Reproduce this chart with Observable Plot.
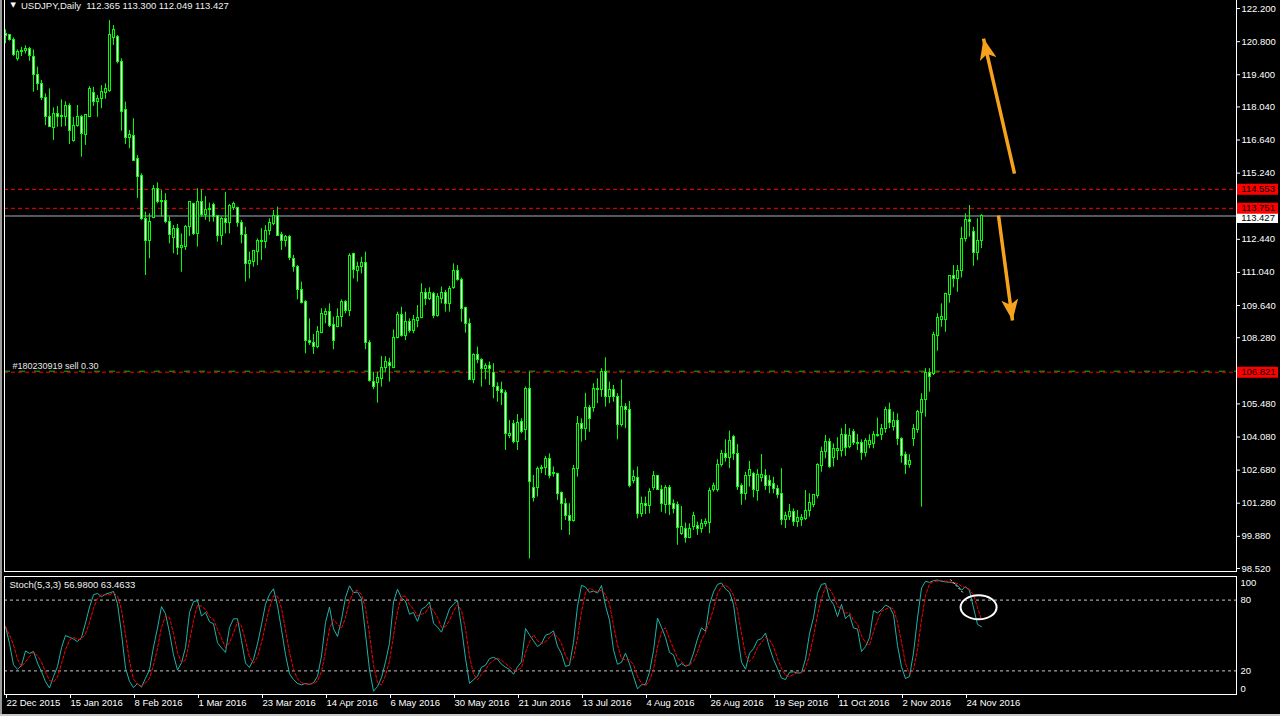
<!DOCTYPE html>
<html><head><meta charset="utf-8">
<script src="https://cdn.jsdelivr.net/npm/d3@7"></script>
<script src="https://cdn.jsdelivr.net/npm/@observablehq/plot@0.6"></script>
<style>
html,body{margin:0;padding:0;background:#000;width:1280px;height:716px;overflow:hidden;}
#wrap{position:relative;width:1280px;height:716px;background:#000;}
#main{position:absolute;left:0;top:0;}
#osc{position:absolute;left:0;top:573px;}
.border{position:absolute;pointer-events:none;box-sizing:content-box;}
svg{overflow:visible;}
</style></head><body>
<div id="wrap">
  <div id="main"></div>
  <div id="osc"></div>
  <div class="border" style="left:4px;top:0;width:1231px;height:571px;border-left:1px solid #fff;border-right:1px solid #fff;border-bottom:1px solid #fff;"></div>
  <div class="border" style="left:0;top:0;width:2px;height:716px;background:#9a9a9a"></div>
  <div class="border" style="left:0;top:714px;width:1280px;height:2px;background:#c8c8c8"></div>
</div>
<script>
// ---- chart data (USDJPY daily, 22 Dec 2015 .. 30 Nov 2016) ----
const open = [
121.13,121.06,120.89,120.06,120.35,120.40,120.51,120.17,119.41,119.02,
118.42,117.63,117.16,117.72,117.60,117.60,118.06,116.59,117.22,117.63,
116.87,117.63,118.64,118.24,118.36,118.62,118.73,120.96,120.99,119.93,
117.89,116.72,116.79,115.82,115.10,113.32,112.36,113.33,114.55,114.01,
114.08,113.19,112.49,112.86,112.07,112.11,112.95,113.92,112.66,114.00,
113.45,113.66,113.91,113.41,112.56,113.32,113.12,113.76,113.77,113.15,
112.64,111.40,111.47,111.90,112.32,112.32,112.78,113.10,113.41,112.63,
112.35,112.52,111.59,111.29,110.28,109.77,108.13,108.04,107.88,108.47,
109.26,109.35,108.80,108.72,109.15,109.77,109.39,111.83,111.12,111.26,
111.43,108.05,106.40,106.36,106.55,106.98,107.23,107.01,108.26,109.22,
108.34,108.96,108.58,108.98,109.11,110.16,109.93,110.11,109.19,109.93,
110.15,109.71,110.37,111.08,110.70,109.53,108.84,106.51,107.53,107.32,
106.94,107.08,106.78,106.19,106.05,105.95,104.12,104.64,103.86,104.71,
104.36,106.09,101.93,101.93,102.71,102.78,103.16,102.50,102.53,101.72,
101.26,100.72,100.52,102.74,104.64,104.43,105.32,105.32,106.08,106.08,
106.85,105.76,106.08,105.79,104.60,105.37,105.23,102.21,102.36,100.83,
101.23,101.16,101.93,102.41,101.86,101.19,101.92,101.23,101.22,99.99,
100.20,99.82,100.27,100.31,100.20,100.41,100.44,101.85,101.85,102.91,
103.37,103.19,104.07,103.37,101.99,101.68,102.45,102.50,101.79,102.34,
102.41,102.24,102.10,101.89,101.65,100.55,100.69,100.89,100.47,100.55,
100.62,100.94,101.19,101.57,102.85,103.44,103.86,103.19,103.48,103.48,
104.17,103.65,104.31,103.82,103.84,103.41,103.75,103.79,104.12,104.15,
104.43,105.24,104.50,104.74,104.01,103.30,102.91,104.01,104.39,105.10,
105.63,106.78,106.75,108.34,109.04,109.04,110.07,110.87,110.77,111.09,
112.46,113.27,112.74,111.87,112.365];
const high = [
121.30,121.10,120.96,120.45,120.56,120.62,120.56,120.45,119.72,119.16,
118.59,118.80,118.00,118.06,118.34,118.26,118.17,117.60,118.10,117.68,
117.70,118.90,118.87,118.52,118.94,119.02,121.69,121.48,121.06,120.07,
118.24,117.04,117.54,115.98,115.21,113.59,113.52,114.72,114.83,114.50,
114.37,113.38,113.02,113.07,112.67,113.02,114.01,113.97,114.58,114.53,
114.25,113.97,113.97,113.45,113.38,114.43,113.91,114.01,113.80,113.24,
112.95,111.90,111.97,112.46,112.89,113.02,113.31,113.66,113.80,112.74,
112.60,112.60,111.76,111.33,110.63,109.85,109.08,108.42,108.75,109.50,
109.50,109.71,109.15,109.50,109.88,109.85,111.83,111.85,111.47,111.68,
111.90,108.16,106.82,106.82,107.48,107.48,107.41,108.61,109.36,109.57,
109.36,109.08,109.22,109.64,110.56,110.35,110.39,110.20,110.14,110.42,
110.28,110.45,111.40,111.33,110.80,109.57,109.08,107.60,107.88,107.39,
107.18,107.25,107.18,106.37,106.40,106.05,104.78,104.78,105.03,104.85,
106.19,106.82,102.45,102.81,102.88,103.26,103.37,102.81,102.55,101.75,
101.47,101.26,102.88,104.95,104.85,105.93,105.41,106.33,106.54,106.97,
107.43,106.40,106.26,105.91,106.50,105.49,105.58,102.67,102.81,101.54,
101.54,101.89,102.62,102.45,102.03,102.03,102.03,101.42,101.33,101.14,
100.44,100.41,100.90,100.48,100.59,100.62,101.92,102.13,103.12,103.51,
103.96,104.33,104.15,103.76,102.10,102.59,103.05,102.59,102.70,103.34,
102.70,102.45,102.38,102.03,102.74,100.90,101.23,101.04,100.97,100.80,
101.82,101.68,101.65,102.95,103.65,104.15,104.01,103.79,104.05,104.43,
104.61,104.43,104.39,104.19,103.96,104.01,104.17,104.31,104.88,104.61,
105.34,105.51,105.13,105.06,104.05,103.44,103.33,104.61,105.20,105.91,
106.97,106.97,108.51,109.29,109.71,110.16,110.91,111.33,111.33,112.95,
113.52,113.87,112.95,113.31,113.48];
const low = [
120.71,120.82,120.17,119.97,120.17,120.28,119.97,118.66,118.73,118.31,
117.25,117.18,116.62,117.18,117.18,117.21,116.45,116.55,117.18,115.91,
116.41,117.60,118.06,117.60,117.96,118.36,118.66,120.64,119.86,117.01,
116.45,116.27,115.73,114.17,113.24,110.91,111.62,113.31,113.94,113.38,
113.10,112.25,111.83,111.76,111.05,111.97,112.56,112.60,112.11,113.38,
113.24,113.17,113.17,112.32,112.18,112.67,112.67,113.66,112.95,112.25,
110.63,110.77,111.26,111.33,111.54,112.04,112.60,113.02,112.56,111.97,
112.11,111.54,111.05,109.88,109.71,107.60,107.95,107.57,107.81,108.45,
108.87,108.70,107.77,108.70,108.72,109.29,109.17,110.77,110.63,110.98,
107.77,106.40,106.08,105.51,106.19,106.82,106.40,106.97,108.23,108.30,
108.16,108.47,108.45,108.70,109.08,109.64,109.85,109.08,109.15,109.71,
109.36,109.36,110.33,110.67,108.93,108.47,106.47,106.33,107.18,106.19,
106.50,106.26,105.70,105.55,105.41,103.51,104.01,103.79,103.51,104.22,
103.93,98.93,101.33,101.54,102.53,102.45,102.31,102.38,101.40,100.13,
100.55,99.92,100.48,102.38,103.86,103.93,104.28,105.13,105.49,105.76,
105.34,105.49,105.55,103.96,104.50,104.43,101.93,102.10,100.62,100.69,
100.80,100.83,101.82,101.82,100.90,100.83,100.76,100.83,99.50,99.92,
99.59,99.78,100.13,99.92,100.01,100.27,99.99,101.75,101.75,102.81,
103.02,102.74,103.09,101.82,101.19,101.40,101.96,101.51,101.37,102.17,
101.82,101.68,101.68,101.47,100.34,100.21,100.55,100.30,100.26,100.30,
100.55,100.69,101.09,101.47,102.59,103.16,102.75,102.81,103.09,103.23,
103.26,103.58,103.72,103.51,103.09,103.23,103.58,103.58,104.07,103.93,
104.24,104.43,104.33,103.72,102.97,102.50,102.76,103.68,104.24,101.11,
104.92,105.98,106.68,107.71,108.72,108.51,109.74,110.39,110.20,110.81,
112.32,112.53,111.30,111.54,112.049];
const close = [
121.05,120.88,120.24,120.38,120.42,120.51,120.18,119.40,119.02,118.42,
117.60,117.21,117.72,117.60,117.65,118.06,117.01,117.25,117.63,116.90,
117.68,118.78,118.24,118.39,118.65,118.78,121.10,121.30,119.93,117.82,
116.72,116.87,115.77,115.07,113.31,112.36,113.19,114.55,114.01,114.08,
113.17,112.63,112.86,112.07,112.15,112.98,114.00,112.66,114.01,113.45,
113.66,113.73,113.38,112.57,113.32,113.12,113.83,113.92,113.12,112.63,
111.39,111.54,111.93,112.35,112.39,112.78,113.11,113.41,112.60,112.36,
112.52,111.64,111.26,110.31,109.76,108.13,108.05,107.88,108.50,109.30,
109.35,108.77,108.13,109.17,109.81,109.40,111.73,111.15,111.29,111.42,
108.05,106.44,106.19,106.57,106.98,107.25,107.08,108.26,109.22,108.34,
108.96,108.55,109.01,109.13,110.16,109.93,110.16,109.19,109.99,110.15,
109.71,110.32,111.08,110.70,109.50,108.84,106.50,107.54,107.32,106.97,
107.08,106.94,106.19,106.02,105.95,104.22,104.22,103.86,104.66,104.31,
106.09,102.17,101.51,102.71,102.79,103.16,102.41,102.57,101.68,101.26,
100.73,100.52,102.74,104.64,104.43,105.32,104.85,106.12,106.13,106.85,
105.76,106.08,105.76,104.60,105.37,105.23,101.99,102.38,100.83,101.23,
101.16,101.76,102.41,101.85,101.23,101.92,101.19,101.03,100.23,100.27,
99.82,100.17,100.72,100.20,100.41,100.48,101.78,101.99,102.91,103.37,
103.19,103.90,103.37,101.96,101.68,102.45,102.67,101.82,102.48,102.48,
101.99,101.99,101.89,101.61,100.55,100.72,100.90,100.47,100.64,100.64,
100.94,101.28,101.61,102.88,103.44,103.89,102.81,103.58,103.58,104.17,
103.62,104.13,103.82,103.79,103.41,103.93,103.93,104.15,104.17,104.43,
105.24,104.68,104.74,104.01,103.26,102.91,103.05,104.43,105.13,105.63,
106.78,106.61,108.40,109.12,109.15,110.11,110.87,110.77,111.12,112.46,
113.27,113.17,111.87,112.35,113.427];

const dateLabels = ["22 Dec 2015","15 Jan 2016","8 Feb 2016","1 Mar 2016","23 Mar 2016","14 Apr 2016","6 May 2016","30 May 2016","21 Jun 2016","13 Jul 2016","4 Aug 2016","26 Aug 2016","19 Sep 2016","11 Oct 2016","2 Nov 2016","24 Nov 2016"];
const barsPerLabel = 16;
const priceTicks = [122.2,120.8,119.4,118.04,116.64,115.24,113.84,112.44,111.04,109.64,108.28,106.88,105.48,104.08,102.68,101.28,99.88,98.52];
const orderLevels = [114.553, 113.751];
const entryLevel = [106.821];
const bidLevel = [113.427];
const stochLevels = [80, 20];
const stochLabels = [100, 80, 20, 0];
const titleText = "USDJPY,Daily  112.365 113.300 112.049 113.427";
const orderText = "#180230919 sell 0.30";
const stochTitle = "Stoch(5,3,3) 56.9800 63.4633";
// annotation arrows (bar index, price)
const arrowStartBar = [252.25, 248.25];
const arrowStartPrice = [115.22, 113.45];
const arrowEndBar = [244.5, 251.75];
const arrowEndPrice = [120.93, 109.01];
// small dotted trend-line object on the oscillator (bar index, stoch value)
const oscLineBar = [236.2, 239.6];
const oscLineValue = [97.5, 85.5];
// annotation ellipse on oscillator (bar index, stoch value, half-width in bars, half-height in stoch units)
const ellipseNote = {bar: 243.4, value: 73.5, halfBars: 4.5, halfValue: 10.2};

// ---- build ----
const XMIN = -0.25, XMAX = 307.75;
const FONT = "Liberation Sans, Arial, sans-serif";
const ORANGE = "#f7a21c";
const bars = open.map((o, i) => ({i, o, h: high[i], l: low[i], c: close[i]}));
const bulls = bars.filter(d => d.c >= d.o);
const bears = bars.filter(d => d.c < d.o);

// Stochastic oscillator (5,3,3), MT4 definition, derived from the OHLC arrays
function stochastic(kP, slow, dP) {
  const n = close.length, num = [], den = [], K = [], D = [];
  for (let t = 0; t < n; t++) {
    const s = Math.max(0, t - kP + 1);
    const ll = d3.min(low.slice(s, t + 1)), hh = d3.max(high.slice(s, t + 1));
    num.push(close[t] - ll); den.push(hh - ll);
    const s2 = Math.max(0, t - slow + 1);
    const sn = d3.sum(num.slice(s2, t + 1)), sd = d3.sum(den.slice(s2, t + 1));
    K.push(sd === 0 ? 50 : 100 * sn / sd);
    const s3 = Math.max(0, t - dP + 1);
    D.push(d3.mean(K.slice(s3, t + 1)));
  }
  return K.map((k, i) => ({i, k, d: D[i]}));
}
const stochRows = stochastic(5, 3, 3);

const arrows = arrowStartBar.map((b, j) => ({x1: b, y1: arrowStartPrice[j], x2: arrowEndBar[j], y2: arrowEndPrice[j]}));

const mainPlot = Plot.plot({
  width: 1280, height: 573,
  marginLeft: 4, marginRight: 44, marginTop: 0, marginBottom: 1,
  style: {background: "transparent", color: "#fff", fontFamily: FONT, fontSize: "9.5px"},
  x: {domain: [XMIN, XMAX], axis: null},
  y: {domain: [98.35, 122.54]},
  marks: [
    Plot.axisY({ticks: priceTicks, anchor: "right", tickSize: 3, tickPadding: 2, label: null,
      tickFormat: d => d.toFixed(3), fill: "#fff", stroke: "#fff", fontSize: 9.5}),
    Plot.ruleY(bidLevel, {stroke: "#a8b0bc"}),
    Plot.ruleY(orderLevels, {stroke: "#ff0000", strokeDasharray: "4,3"}),
    Plot.ruleY(entryLevel, {stroke: "#00c800", strokeDasharray: "6,9", dy: -1}),
    Plot.ruleY(entryLevel, {stroke: "#ff0000", strokeDasharray: "4,3"}),
    Plot.ruleX(bars, {x: "i", y1: "l", y2: "h", stroke: "#00ff00"}),
    Plot.rect(bulls, {x1: d => d.i - 0.25, x2: d => d.i + 0.25, y1: "o", y2: "c", fill: "#000", stroke: "#00ff00", shapeRendering: "crispEdges"}),
    Plot.rect(bears, {x1: d => d.i - 0.25, x2: d => d.i + 0.25, y1: "o", y2: "c", fill: "#fff", stroke: "#00ff00", shapeRendering: "crispEdges"}),
    Plot.link(arrows, {x1: "x1", y1: "y1", x2: "x2", y2: "y2", stroke: ORANGE, strokeWidth: 3.5}),
    // price labels on the axis
    Plot.ruleY(bidLevel, {x1: XMAX + 0.25, x2: XMAX + 10.5, stroke: "#fff", strokeWidth: 10, dy: 2}),
    Plot.text(bidLevel, {x: XMAX + 1.2, y: d => d, text: d => d.toFixed(3), textAnchor: "start", fill: "#000", dy: 2, fontSize: 9.5}),
    Plot.ruleY(orderLevels.concat(entryLevel), {x1: XMAX + 0.25, x2: XMAX + 10.5, stroke: "#ff0000", strokeWidth: 11}),
    Plot.text(orderLevels.concat(entryLevel), {x: XMAX + 1.2, y: d => d, text: d => d.toFixed(3), textAnchor: "start", fill: "#000", fontSize: 9.5}),
    Plot.text(entryLevel, {y: d => d, frameAnchor: "left", dx: 8, dy: -6, text: () => orderText, textAnchor: "start", fill: "#e6e6e6", fontSize: 9}),
    Plot.text([titleText], {frameAnchor: "top-left", dx: 16.5, dy: 5, text: d => d, textAnchor: "start", lineAnchor: "middle", fill: "#f0f0f0", fontSize: 9.5}),
    Plot.text(["\u25BC"], {frameAnchor: "top-left", dx: 6, dy: 4, text: d => d, textAnchor: "start", lineAnchor: "middle", fill: "#fff", fontSize: 7, fontFamily: "DejaVu Sans"})
  ]
});
document.getElementById("main").appendChild(mainPlot);

// filled arrowheads for the annotation links
const svgMain = d3.select(mainPlot);
svgMain.append("defs").append("marker")
  .attr("id", "ahead").attr("viewBox", "0 0 10 10").attr("refX", 10).attr("refY", 5)
  .attr("markerWidth", 21).attr("markerHeight", 17).attr("markerUnits", "userSpaceOnUse")
  .attr("preserveAspectRatio", "none").attr("orient", "auto")
  .append("path").attr("d", "M0,0 L10,5 L0,10 L2.5,5 z").attr("fill", ORANGE);
svgMain.selectAll('g[aria-label="link"] path').attr("marker-end", "url(#ahead)");

const oscPlot = Plot.plot({
  width: 1280, height: 143,
  marginLeft: 4, marginRight: 44, marginTop: 3, marginBottom: 22,
  style: {background: "transparent", color: "#fff", fontFamily: FONT, fontSize: "9.5px"},
  x: {domain: [XMIN, XMAX]},
  y: {domain: [0, 100], axis: null},
  marks: [
    Plot.ruleY(stochLevels, {stroke: "#c8c8c8", strokeDasharray: "3,3"}),
    Plot.line(stochRows, {x: "i", y: "k", stroke: "#20b2aa", strokeWidth: 1}),
    Plot.line(stochRows, {x: "i", y: "d", stroke: "#ff0000", strokeWidth: 1, strokeDasharray: "3,2"}),
    Plot.link([0], {x1: () => oscLineBar[0], y1: () => oscLineValue[0], x2: () => oscLineBar[1], y2: () => oscLineValue[1], stroke: "#fff", strokeDasharray: "2,2"}),
    Plot.frame({stroke: "#fff"}),
    Plot.axisX({ticks: d3.range(0, dateLabels.length * barsPerLabel, barsPerLabel), anchor: "bottom", tickSize: 4, tickPadding: 1, label: null,
      tickFormat: d => dateLabels[d / barsPerLabel], textAnchor: "start", dx: 1, stroke: "#fff", fill: "#fff", fontSize: 9.5}),
    Plot.text(stochLabels.filter(v => v === 100), {y: d => d, frameAnchor: "right", dx: 4, dy: 6, text: d => String(d), textAnchor: "start", fill: "#fff", fontSize: 9.5}),
    Plot.text(stochLabels.filter(v => v > 0 && v < 100), {y: d => d, frameAnchor: "right", dx: 4, text: d => String(d), textAnchor: "start", fill: "#fff", fontSize: 9.5}),
    Plot.text(stochLabels.filter(v => v === 0), {y: d => d, frameAnchor: "right", dx: 4, dy: -6, text: d => String(d), textAnchor: "start", fill: "#fff", fontSize: 9.5}),
    Plot.text([stochTitle], {frameAnchor: "top-left", dx: 5, dy: 8, text: d => d, textAnchor: "start", lineAnchor: "middle", fill: "#f0f0f0", fontSize: 9.5})
  ]
});
document.getElementById("osc").appendChild(oscPlot);

// ellipse annotation placed through the plot's own scales
const sx = oscPlot.scale("x"), sy = oscPlot.scale("y");
const cx = sx.apply(ellipseNote.bar), cy = sy.apply(ellipseNote.value);
d3.select(oscPlot).append("ellipse")
  .attr("cx", cx).attr("cy", cy)
  .attr("rx", Math.abs(sx.apply(ellipseNote.bar + ellipseNote.halfBars) - cx))
  .attr("ry", Math.abs(sy.apply(ellipseNote.value + ellipseNote.halfValue) - cy))
  .attr("fill", "none").attr("stroke", "#fff").attr("stroke-width", 2);
</script>
</body></html>
